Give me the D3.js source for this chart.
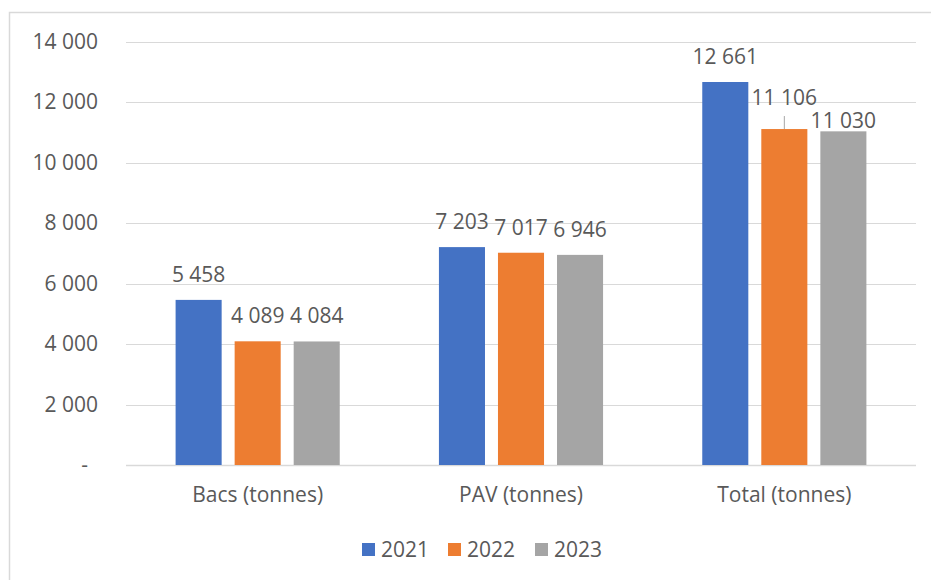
<!DOCTYPE html>
<html>
<head>
<meta charset="utf-8">
<script src="https://cdn.jsdelivr.net/npm/d3@7"></script>
<style>
  html, body { margin: 0; padding: 0; background: #fff; }
  svg { display: block; font-family: "Open Sans", sans-serif; }
</style>
</head>
<body>
<svg id="chart" width="931" height="580"></svg>
<script>
// Tonnages par catégorie et par année
const CATEGORIES = ["Bacs (tonnes)", "PAV (tonnes)", "Total (tonnes)"];
const YEARS = ["2021", "2022", "2023"];
const VALUES_2021 = [5458, 7203, 12661];
const VALUES_2022 = [4089, 7017, 11106];
const VALUES_2023 = [4084, 6946, 11030];
const Y_TICKS = [0, 2000, 4000, 6000, 8000, 10000, 12000, 14000];

const COLORS = { "2021": "#4472C4", "2022": "#ED7D31", "2023": "#A5A5A5" };
const TEXT = "#595959";
const GRID = "#D9D9D9";
const FS = 21;

const series = { "2021": VALUES_2021, "2022": VALUES_2022, "2023": VALUES_2023 };
const rows = CATEGORIES.map((c, i) => ({ cat: c, vals: YEARS.map(y => ({ year: y, v: series[y][i] })) }));

const svg = d3.select("#chart");
const plot = { left: 126, right: 916, top: 41.5, bottom: 465 };

// outer chart frame (runs off the right and bottom edges)
svg.append("rect").attr("x", 9.5).attr("y", 12.5).attr("width", 960).attr("height", 620)
    .attr("fill", "none").attr("stroke", GRID).attr("stroke-width", 1.5);

const fr = d3.formatLocale({ decimal: ",", thousands: "\u00a0", grouping: [3], currency: ["", ""] });
const fmt = fr.format(",");

const x0 = d3.scaleBand().domain(CATEGORIES).range([plot.left, plot.right]).padding(0);
const x1 = d3.scaleBand().domain(YEARS).range([0, x0.bandwidth()])
    .paddingInner(0.22).paddingOuter(0.84);
const y = d3.scaleLinear().domain([0, 14000]).range([plot.bottom, plot.top]);

// gridlines
svg.append("g").selectAll("line").data(Y_TICKS).join("line")
    .attr("x1", plot.left).attr("x2", plot.right)
    .attr("y1", d => Math.round(y(d)) + 0.5).attr("y2", d => Math.round(y(d)) + 0.5)
    .attr("stroke", GRID).attr("stroke-width", d => d === 0 ? 1.5 : 1.2);

// y axis labels
const yAx = svg.append("g").attr("transform", `translate(${plot.left - 28},0)`)
    .call(d3.axisLeft(y).tickValues(Y_TICKS).tickSize(0).tickPadding(0)
        .tickFormat(d => d === 0 ? "-" : fmt(d)));
yAx.select(".domain").remove();
yAx.selectAll("text").attr("fill", TEXT).attr("font-size", FS).attr("font-family", "Open Sans")
    .attr("dx", d => d === 0 ? -10 : 0);

// x axis labels
const xAx = svg.append("g").attr("transform", `translate(0,${plot.bottom})`)
    .call(d3.axisBottom(x0).tickSize(0).tickPadding(0));
xAx.select(".domain").remove();
xAx.selectAll("text").attr("fill", TEXT).attr("font-size", FS).attr("font-family", "Open Sans")
    .attr("dy", 37);

// bars
const groups = svg.append("g").selectAll("g").data(rows).join("g")
    .attr("transform", d => `translate(${x0(d.cat)},0)`);
groups.selectAll("rect").data(d => d.vals).join("rect")
    .attr("x", d => x1(d.year)).attr("width", x1.bandwidth())
    .attr("y", d => y(d.v)).attr("height", d => y(0) - y(d.v))
    .attr("fill", d => COLORS[d.year]);

// data labels — two on the Total group were nudged in the original
const NUDGE = { "Total (tonnes)|2022": -6, "Total (tonnes)|2023": 15 };
groups.each(function(r) {
    const gg = d3.select(this);
    r.vals.forEach(d => {
        const k = r.cat + "|" + d.year;
        const cx = x1(d.year) + x1.bandwidth() / 2;
        const by = y(d.v) - 18 + (NUDGE[k] || 0);
        gg.append("text").attr("x", cx).attr("y", by).attr("text-anchor", "middle")
            .attr("fill", TEXT).attr("font-size", FS).text(fmt(d.v));
        if (k === "Total (tonnes)|2022") {
            gg.append("line").attr("x1", cx).attr("x2", cx)
                .attr("y1", by + 11).attr("y2", y(d.v))
                .attr("stroke", "#A6A6A6").attr("stroke-width", 1);
        }
    });
});

// legend
const legendX = [362, 448, 535];
const lg = svg.append("g").attr("transform", "translate(0,543)");
YEARS.forEach((yr, i) => {
    lg.append("rect").attr("x", legendX[i]).attr("y", 0).attr("width", 13).attr("height", 13)
        .attr("fill", COLORS[yr]);
    lg.append("text").attr("x", legendX[i] + 19).attr("y", 14)
        .attr("fill", TEXT).attr("font-size", FS).text(yr);
});
</script>
</body>
</html>
